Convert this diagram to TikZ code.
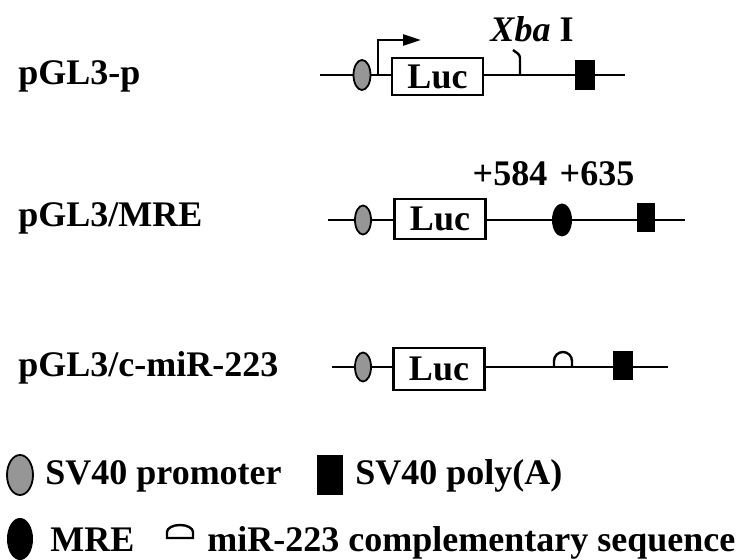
\documentclass[tikz,border=0pt]{standalone}
\usepackage{fontspec}
\setmainfont{Liberation Serif}
\usetikzlibrary{arrows.meta, shapes.geometric}
\definecolor{promotergray}{RGB}{150,150,150}

\tikzset{
	labeltext/.style={font=\fontsize{18}{20}\selectfont\bfseries, inner sep=0pt},
	backbone/.style={line width=1.2pt},
	lucbox/.style={draw, line width=1.2pt, fill=white, minimum width=45.5pt, minimum height=19pt, inner sep=0pt, font=\fontsize{18}{20}\selectfont\bfseries},
	promoter/.style={ellipse, draw, line width=0.9pt, fill=promotergray, minimum width=8pt, minimum height=14.5pt, inner sep=0pt},
	mresite/.style={ellipse, fill=black, minimum width=10pt, minimum height=16.5pt, inner sep=0pt},
	polya/.style={fill=black, minimum width=10pt, minimum height=14.5pt, inner sep=0pt},
}

\begin{document}
\begin{tikzpicture}[x=0.5pt, y=-0.5pt]
	\useasboundingbox (0,0) rectangle (751,560);

	% pGL3-p
	\node[labeltext, anchor=base west] (namep) at (18,85) {pGL3-p};
	\coordinate (startp) at (320,75);
	\coordinate (endp) at (625,75);
	\draw[backbone] (startp) -- (endp);
	\node[promoter, minimum width=8.5pt, minimum height=15pt] (promp) at (362,75) {};
	\node[lucbox, minimum height=18.5pt] (lucp) at (437.5,76.5) {Luc};
	\node[polya, minimum height=15pt] (polyp) at (585,75) {};
	\coordinate (tssp) at (378,75);
	\coordinate (tssend) at (421,40);
	\draw[line width=1.2pt, -{Triangle[length=9pt, width=5.5pt]}] (tssp) |- (tssend);
	\coordinate (xbap) at (520,75);
	\draw[line width=1.2pt] (xbap) -- (520,58) to[out=90, in=-40] (513,50);
	\node[labeltext, anchor=base] (xbalabel) at (532,42) {\textit{Xba} I};

	% pGL3/MRE
	\node[labeltext, anchor=base west] (namemre) at (18,227) {pGL3/MRE};
	\coordinate (startmre) at (328,220);
	\coordinate (endmre) at (685,220);
	\draw[backbone] (startmre) -- (endmre);
	\node[promoter] (prommre) at (363,220) {};
	\node[lucbox, minimum height=20pt] (lucmre) at (440,219) {Luc};
	\node[mresite] (siteMRE) at (562,220) {};
	\node[polya, minimum width=9pt] (polymre) at (646,217.5) {};
	\node[labeltext, anchor=base] (posa) at (510,186) {+584};
	\node[labeltext, anchor=base] (posb) at (597,186) {+635};

	% pGL3/c-miR-223
	\node[labeltext, anchor=base west] (namemir) at (18,377) {pGL3/c-miR-223};
	\coordinate (startmir) at (332,367);
	\coordinate (endmir) at (668,367);
	\draw[backbone] (startmir) -- (endmir);
	\node[promoter] (prommir) at (363,367) {};
	\node[lucbox, minimum height=21pt] (lucmir) at (439,369) {Luc};
	\coordinate (archmir) at (554,367);
	\draw[line width=1.2pt] (archmir) -- ++(0,-6) arc[start angle=180, end angle=0, radius=4.5pt] -- ++(0,6);
	\node[polya] (polymir) at (623,366) {};

	% Legend
	\node[promoter, minimum width=13pt, minimum height=20pt] (keyprom) at (20,475) {};
	\node[labeltext, anchor=base west] (keypromtext) at (45,485) {SV40 promoter};
	\node[polya, minimum width=13pt, minimum height=20pt] (keypoly) at (330,475) {};
	\node[labeltext, anchor=base west] (keypolytext) at (355,485) {SV40 poly(A)};
	\node[mresite, minimum width=13pt, minimum height=21pt] (keymre) at (20,539) {};
	\node[labeltext, anchor=base west] (keymretext) at (50,552) {MRE};
	\coordinate (keyarch) at (167,538);
	\draw[line width=1.2pt] (keyarch) -- ++(0,-6) arc[start angle=180, end angle=0, x radius=6.5pt, y radius=3.5pt] -- ++(0,6) -- cycle;
	\node[labeltext, anchor=base west] (keyarchtext) at (207,552) {miR-223 complementary sequence};

\end{tikzpicture}
\end{document}
